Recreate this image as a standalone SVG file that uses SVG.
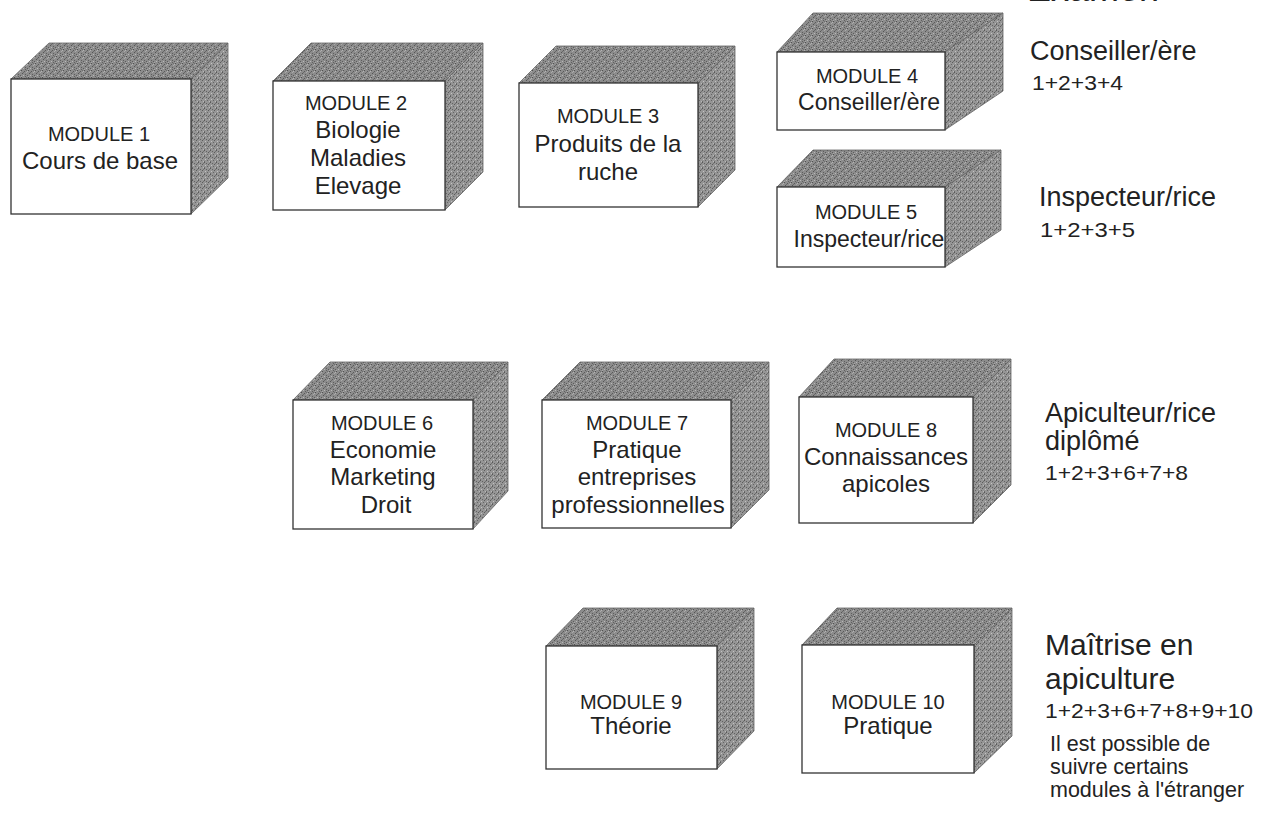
<svg xmlns="http://www.w3.org/2000/svg" width="1261" height="818" viewBox="0 0 1261 818">
<defs>
<pattern id="grain" width="7" height="7" patternUnits="userSpaceOnUse">
<rect width="7" height="7" fill="#8c8c8c"/>
<rect x="0" y="0" width="1" height="1" fill="#505050"/>
<rect x="3" y="1" width="1" height="1" fill="#5a5a5a"/>
<rect x="6" y="1" width="1" height="1" fill="#b4b4b4"/>
<rect x="1" y="3" width="1" height="1" fill="#555"/>
<rect x="4" y="4" width="1" height="1" fill="#5e5e5e"/>
<rect x="2" y="5" width="1" height="1" fill="#b8b8b8"/>
<rect x="5" y="2" width="1" height="1" fill="#aaaaaa"/>
<rect x="2" y="2" width="1" height="1" fill="#6a6a6a"/>
<rect x="6" y="5" width="1" height="1" fill="#5c5c5c"/>
<rect x="0" y="6" width="1" height="1" fill="#a8a8a8"/>
<rect x="4" y="6" width="1" height="1" fill="#606060"/>
<rect x="5" y="0" width="1" height="1" fill="#6e6e6e"/>
</pattern>
<pattern id="grain2" width="6" height="6" patternUnits="userSpaceOnUse">
<rect width="6" height="6" fill="#959595"/>
<rect x="0" y="0" width="1" height="1" fill="#585858"/>
<rect x="2" y="1" width="1" height="1" fill="#626262"/>
<rect x="4" y="2" width="1" height="1" fill="#5c5c5c"/>
<rect x="1" y="3" width="1" height="1" fill="#c2c2c2"/>
<rect x="3" y="4" width="1" height="1" fill="#666"/>
<rect x="5" y="5" width="1" height="1" fill="#b9b9b9"/>
<rect x="0" y="5" width="1" height="1" fill="#6a6a6a"/>
<rect x="5" y="1" width="1" height="1" fill="#707070"/>
</pattern>
</defs>
<style>
.top{fill:url(#grain);stroke:#666;stroke-width:0.8}
.side{fill:url(#grain2);stroke:#666;stroke-width:0.8}
.front{fill:#fff;stroke:#333;stroke-width:1.3}
text{font-family:"Liberation Sans",Arial,sans-serif;fill:#222}
.mod{font-size:20px;text-anchor:middle}
.sub{font-size:24px;text-anchor:middle}
.sub2{font-size:23px;text-anchor:middle}
.exam{font-size:27px}
.combo{font-size:21px}
.big{font-size:30px}
.note{font-size:21.5px}
</style>
<rect width="1261" height="818" fill="#fff"/>
<g id="connectors"/>
<text id="title" x="1027" y="1" font-size="36">Examen</text>

<g id="module1">
<polygon class="top" points="11,79 49,43 228,43 191,79"/>
<polygon class="side" points="191,79 228,43 228,178 191,214"/>
<rect class="front" x="11" y="79" width="180" height="135"/>
<text class="mod" x="99" y="141">MODULE 1</text>
<text class="sub" x="100" y="169">Cours de base</text>
</g>

<g id="module2">
<polygon class="top" points="273,81 311,43 483,43 445,81"/>
<polygon class="side" points="445,81 483,43 483,172 445,210"/>
<rect class="front" x="273" y="81" width="172" height="129"/>
<text class="mod" x="356" y="110">MODULE 2</text>
<text class="sub" x="358" y="138">Biologie</text>
<text class="sub" x="358" y="166">Maladies</text>
<text class="sub" x="358" y="194">Elevage</text>
</g>

<g id="module3">
<polygon class="top" points="519,83 556,46 735,46 698,83"/>
<polygon class="side" points="698,83 735,46 735,170 698,207"/>
<rect class="front" x="519" y="83" width="179" height="124"/>
<text class="mod" x="608" y="123">MODULE 3</text>
<text class="sub" x="608" y="152">Produits de la</text>
<text class="sub" x="608" y="180">ruche</text>
</g>

<g id="module4">
<polygon class="top" points="777,52 813,13 1003,13 945,52"/>
<polygon class="side" points="945,52 1003,13 1003,91 945,130"/>
<rect class="front" x="777" y="52" width="168" height="78"/>
<text class="mod" x="867" y="83">MODULE 4</text>
<text class="sub2" x="869" y="110">Conseiller/ère</text>
</g>

<g id="module5">
<polygon class="top" points="777,187 813,150 1001,150 945,187"/>
<polygon class="side" points="945,187 1001,150 1001,230 945,267"/>
<rect class="front" x="777" y="187" width="168" height="80"/>
<text class="mod" x="866" y="219">MODULE 5</text>
<text class="sub2" x="869" y="247">Inspecteur/rice</text>
</g>

<g id="exam-conseiller">
<text class="exam" x="1030" y="60">Conseiller/ère</text>
<text class="combo" x="1032" y="90" textLength="91" lengthAdjust="spacingAndGlyphs">1+2+3+4</text>
</g>

<g id="exam-inspecteur">
<text class="exam" x="1039" y="206">Inspecteur/rice</text>
<text class="combo" x="1040" y="237" textLength="95" lengthAdjust="spacingAndGlyphs">1+2+3+5</text>
</g>

<g id="module6">
<polygon class="top" points="293,400 330,362 508,362 473,400"/>
<polygon class="side" points="473,400 508,362 508,491 473,529"/>
<rect class="front" x="293" y="400" width="180" height="129"/>
<text class="mod" x="382" y="430">MODULE 6</text>
<text class="sub" x="383" y="458">Economie</text>
<text class="sub" x="383" y="485">Marketing</text>
<text class="sub" x="386" y="513">Droit</text>
</g>

<g id="module7">
<polygon class="top" points="542,400 580,362 769,362 731,400"/>
<polygon class="side" points="731,400 769,362 769,490 731,528"/>
<rect class="front" x="542" y="400" width="189" height="128"/>
<text class="mod" x="637" y="430">MODULE 7</text>
<text class="sub" x="637" y="458">Pratique</text>
<text class="sub" x="637" y="485">entreprises</text>
<text class="sub" x="638" y="513">professionnelles</text>
</g>

<g id="module8">
<polygon class="top" points="799,397 834,359 1011,359 973,397"/>
<polygon class="side" points="973,397 1011,359 1011,485 973,523"/>
<rect class="front" x="799" y="397" width="174" height="126"/>
<text class="mod" x="886" y="437">MODULE 8</text>
<text class="sub" x="886" y="465">Connaissances</text>
<text class="sub" x="886" y="492">apicoles</text>
</g>

<g id="exam-apiculteur">
<text class="exam" x="1045" y="422">Apiculteur/rice</text>
<text class="exam" x="1045" y="450">diplômé</text>
<text class="combo" x="1045" y="480" textLength="143" lengthAdjust="spacingAndGlyphs">1+2+3+6+7+8</text>
</g>

<g id="module9">
<polygon class="top" points="546,646 583,608 754,608 717,646"/>
<polygon class="side" points="717,646 754,608 754,731 717,769"/>
<rect class="front" x="546" y="646" width="171" height="123"/>
<text class="mod" x="631" y="709">MODULE 9</text>
<text class="sub" x="631" y="734">Théorie</text>
</g>

<g id="module10">
<polygon class="top" points="802,645 837,608 1012,608 974,645"/>
<polygon class="side" points="974,645 1012,608 1012,736 974,773"/>
<rect class="front" x="802" y="645" width="172" height="128"/>
<text class="mod" x="888" y="709">MODULE 10</text>
<text class="sub" x="888" y="734">Pratique</text>
</g>

<g id="exam-maitrise">
<text class="big" x="1045" y="655">Maîtrise en</text>
<text class="big" x="1045" y="689">apiculture</text>
<text class="combo" x="1045" y="718" textLength="208" lengthAdjust="spacingAndGlyphs">1+2+3+6+7+8+9+10</text>
<text class="note" x="1050" y="751">Il est possible de</text>
<text class="note" x="1050" y="774">suivre certains</text>
<text class="note" x="1050" y="797">modules à l'étranger</text>
</g>
</svg>
